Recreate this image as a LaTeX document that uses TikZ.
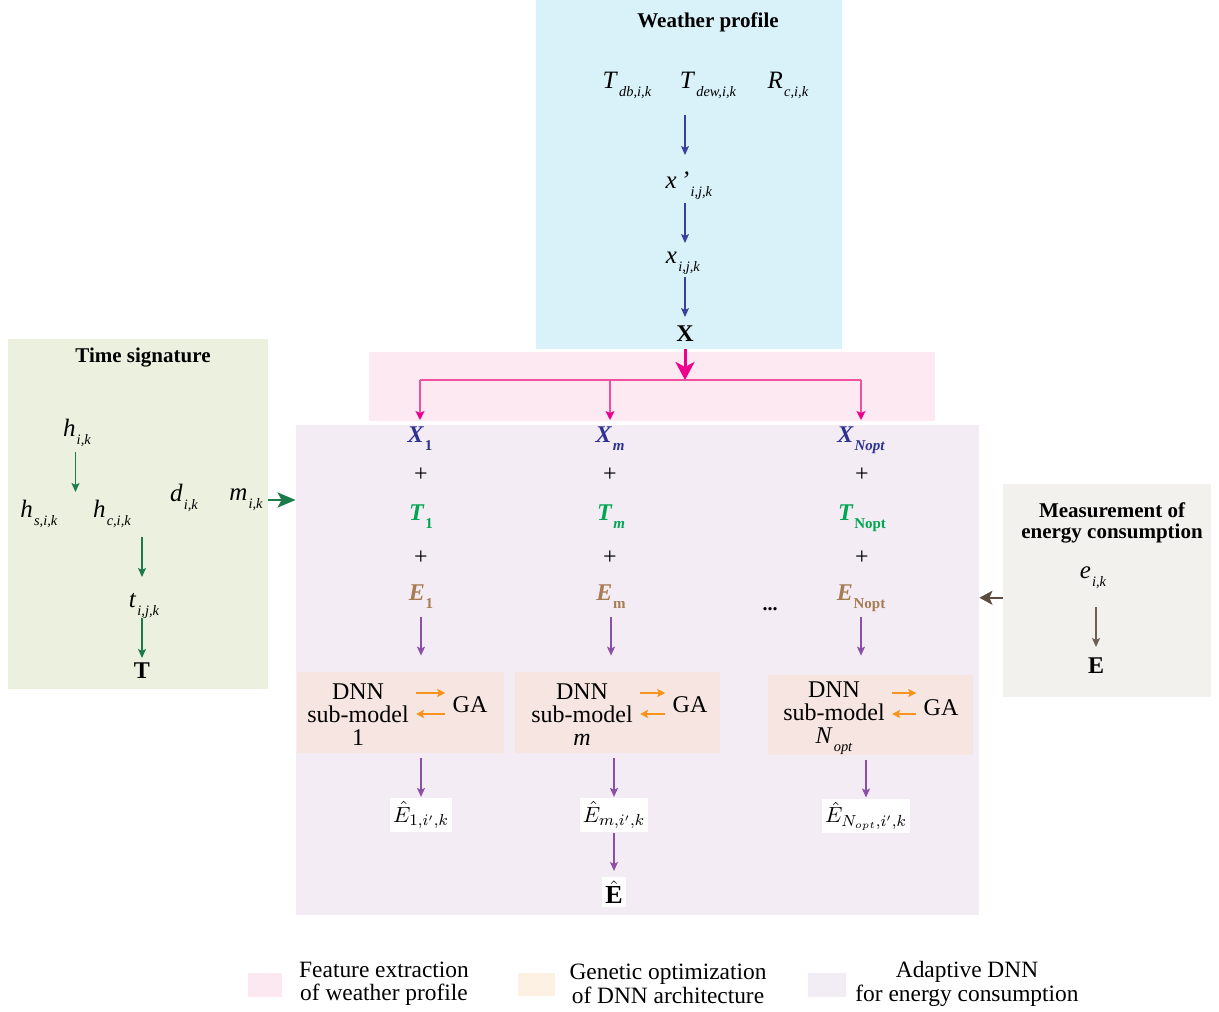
\documentclass[tikz,border=0pt]{standalone}
\usepackage{fontspec}
\setmainfont{Liberation Serif}
\usetikzlibrary{arrows.meta,calc,fit}
\definecolor{wbg}{HTML}{D9F2FA}
\definecolor{pbg}{HTML}{FCE9F2}
\definecolor{tbg}{HTML}{EBF1DE}
\definecolor{abg}{HTML}{F3ECF4}
\definecolor{mbg}{HTML}{F2F1EE}
\definecolor{dbg}{HTML}{F6E5E1}
\definecolor{lpk}{HTML}{FCE8F0}
\definecolor{lpc}{HTML}{FDF1E3}
\definecolor{lpu}{HTML}{F2ECF5}
\definecolor{cblue}{HTML}{3B3F9A}
\definecolor{xblue}{HTML}{2E3192}
\definecolor{cgreen}{HTML}{1D7A4A}
\definecolor{tgreen}{HTML}{00A651}
\definecolor{cpink}{HTML}{EC008C}
\definecolor{lpink}{HTML}{F0509E}
\definecolor{cpurp}{HTML}{8B4FA5}
\definecolor{corng}{HTML}{F7941D}
\definecolor{ebrown}{HTML}{A67C52}
\definecolor{cbrown}{HTML}{5C4B3F}
\definecolor{cgray}{HTML}{6D5F58}
\newcommand\vv[2]{\textit{#1}\kern0.6pt\raisebox{-4pt}{\fontsize{7.2}{8}\selectfont\textit{#2}}}
\newcommand\cvb[2]{\textbf{\textit{#1}}\kern0.4pt\raisebox{-4pt}{\fontsize{7.5}{8}\selectfont\bfseries #2}}
\tikzset{
  region/.style={inner sep=0pt, draw=none},
  ttl/.style={font=\fontsize{10.5}{10.5}\selectfont\bfseries, inner sep=0pt},
  var/.style={font=\fontsize{12.5}{14}\selectfont, inner sep=0pt, anchor=base},
  bvar/.style={var, font=\fontsize{12}{14}\selectfont\bfseries},
  cvar/.style={var, font=\fontsize{12}{14}\selectfont},
  plussign/.style={font=\fontsize{12}{14}\selectfont, inner sep=0pt},
  dnn/.style={align=center, font=\fontsize{12}{11.5}\selectfont, inner sep=2pt},
  ga/.style={font=\fontsize{12}{14}\selectfont, inner sep=2pt},
  lbl/.style={fill=white, inner sep=1.5pt, font=\fontsize{11}{13}\selectfont},
  leg/.style={align=center, font=\fontsize{11.7}{11.7}\selectfont, inner sep=0pt},
  tarr/.style={line width=0.6pt, -{Stealth[length=4.5pt,width=4pt,inset=1pt]}},
  barr/.style={tarr, draw=cblue},
  garr/.style={tarr, draw=cgreen},
  parw/.style={tarr, draw=cpurp},
  brarr/.style={tarr, draw=cgray},
  oarr/.style={line width=0.8pt, draw=corng, -{Stealth[length=4pt,width=4pt,inset=0.8pt]}, shorten <=1.5pt, shorten >=1.5pt},
  pline/.style={line width=0.7pt, draw=lpink},
  parr/.style={pline, -{Stealth[length=4.5pt,width=4.5pt,inset=1pt,color=cpink]}},
  pthick/.style={line width=1.5pt, draw=cpink, -{Stealth[length=9pt,width=9.5pt,inset=2.5pt]}},
  gthick/.style={line width=1.2pt, draw=cgreen, -{Stealth[length=9pt,width=7.5pt,inset=2pt]}},
  brthick/.style={line width=1pt, draw=cbrown, -{Stealth[length=6.5pt,width=7pt,inset=1.5pt]}},
}
\begin{document}
\begin{tikzpicture}[x=0.5pt,y=-0.5pt]
\useasboundingbox (0,0) rectangle (1219,1011);
% regions
\node[region, fill=wbg, fit={(536,0)(842,349)}] (wbox) {};
\node[region, fill=pbg, fit={(369,352)(935,421)}] (pbox) {};
\node[region, fill=tbg, fit={(8,339)(268,689)}] (tbox) {};
\node[region, fill=abg, fit={(296,425)(979,915)}] (abox) {};
\node[region, fill=mbg, fit={(1003,484)(1211,697)}] (mbox) {};
\node[region, fill=dbg, fit={(297,672)(504,753)}] (b1) {};
\node[region, fill=dbg, fit={(515,672)(720,753)}] (b2) {};
\node[region, fill=dbg, fit={(768,675)(973,755)}] (b3) {};
% weather profile
\node[ttl, anchor=base] (wt) at (708,28) {Weather profile};
\node[var] (tdb) at (627,89) {\vv{T}{db,i,k}};
\node[var] (tdew) at (708,89) {\vv{T}{dew,i,k}};
\node[var] (rc) at (788,89) {\vv{R}{c,i,k}};
\node[var] (xp) at (689,188) {\vv{x\,’}{i,j,k}};
\node[var] (xs) at (683,263) {\vv{x}{i,j,k}};
\node[bvar] (Xb) at (685,341) {X};
\draw[barr, shorten <=13pt, shorten >=16.5pt] (tdew.base -| Xb) -- (xp.base -| Xb);
\draw[barr, shorten <=7.5pt, shorten >=10pt] (xp.base -| Xb) -- (xs.base -| Xb);
\draw[barr, shorten <=7pt, shorten >=12pt] (xs.base -| Xb) -- (Xb.base);
% columns
\node[cvar, text=xblue] (x1) at (420,442) {\cvb{X}{1}};
\node[cvar, text=xblue] (xm) at (610,442) {\cvb{X}{\itshape m}};
\node[cvar, text=xblue] (xn) at (861,442) {\cvb{X}{\itshape Nopt}};
\node[plussign] (pa1) at (421,475) {+};
\node[plussign] (pam) at (610,475) {+};
\node[plussign] (pan) at (862,475) {+};
\node[cvar, text=tgreen] (t1) at (421,520) {\cvb{T}{1}};
\node[cvar, text=tgreen] (tm) at (611,520) {\cvb{T}{\itshape m}};
\node[cvar, text=tgreen] (tn) at (862,520) {\cvb{T}{Nopt}};
\node[plussign] (pb1) at (421,558) {+};
\node[plussign] (pbm) at (610,558) {+};
\node[plussign] (pbn) at (862,558) {+};
\node[cvar, text=ebrown] (e1) at (421,600) {\cvb{E}{1}};
\node[cvar, text=ebrown] (em) at (611,600) {\cvb{E}{m}};
\node[cvar, text=ebrown] (en) at (861,600) {\cvb{E}{Nopt}};
\node[anchor=base, inner sep=0pt, font=\fontsize{10}{12}\selectfont\bfseries] (dots) at (770,610) {...};
% pink split
\coordinate (split) at (685,380);
\draw[pthick] (wbox.south -| Xb) -- (split);
\draw[pline] (x1.base |- split) -- (xn.base |- split);
\draw[parr, shorten >=11pt] (x1.base |- split) -- (x1.base);
\draw[parr, shorten >=11pt] (xm.base |- split) -- (xm.base);
\draw[parr, shorten >=11pt] (xn.base |- split) -- (xn.base);
% E -> boxes
\draw[parw, shorten <=8.5pt, shorten >=8pt] (e1.base) -- (e1.base |- b1.north);
\draw[parw, shorten <=8.5pt, shorten >=8pt] (em.base) -- (em.base |- b2.north);
\draw[parw, shorten <=8.5pt, shorten >=9.5pt] (en.base) -- (en.base |- b3.north);
% box contents
\node[dnn] (d1) at (358,715) {DNN\\sub-model\\1};
\node[ga] (g1) at (470,705) {GA};
\node[dnn] (d2) at (582,715) {DNN\\sub-model\\\textit{m}};
\node[ga] (g2) at (690,705) {GA};
\node[dnn] (d3) at (834,718) {DNN\\sub-model\\\vv{N}{opt}};
\node[ga] (g3) at (941,708) {GA};
\draw[oarr] ([yshift=11pt]d1.east) -- ([yshift=6pt]g1.west);
\draw[oarr] ([yshift=-4.5pt]g1.west) -- ([yshift=0.5pt]d1.east);
\draw[oarr] ([yshift=11pt]d2.east) -- ([yshift=6pt]g2.west);
\draw[oarr] ([yshift=-4.5pt]g2.west) -- ([yshift=0.5pt]d2.east);
\draw[oarr] ([yshift=12.5pt]d3.east) -- ([yshift=7.5pt]g3.west);
\draw[oarr] ([yshift=-3pt]g3.west) -- ([yshift=2pt]d3.east);
% outputs
\node[lbl] (h1) at (421,815) {$\hat{E}_{1,i',k}$};
\node[lbl] (hm) at (614,815) {$\hat{E}_{m,i',k}$};
\node[lbl] (hn) at (866,816) {$\hat{E}_{N_{opt},i',k}$};
\node[lbl, font=\fontsize{13}{14}\selectfont] (Eh) at (614,892) {$\hat{\mathbf{E}}$};
\draw[parw, shorten <=2.5pt, shorten >=0.5pt] (b1.south -| h1) -- (h1.north);
\draw[parw, shorten <=2.5pt, shorten >=0.5pt] (b2.south -| hm) -- (hm.north);
\draw[parw, shorten <=2.5pt, shorten >=0.5pt] (b3.south -| hn) -- (hn.north);
\draw[parw, shorten <=0.5pt, shorten >=3pt] (hm.south -| Eh) -- (Eh.north);
% time signature
\node[ttl, anchor=base] (tt) at (143,362) {Time signature};
\node[var] (hik) at (77,436) {\vv{h}{i,k}};
\node[var] (hs) at (39,517) {\vv{h}{s,i,k}};
\node[var] (hc) at (112,517) {\vv{h}{c,i,k}};
\node[var] (dik) at (184,501) {\vv{d}{i,k}};
\node[var] (mik) at (246,500) {\vv{m}{i,k}};
\node[var] (tij) at (144,607) {\vv{t}{i,j,k}};
\node[bvar] (Tb) at (142,678) {T};
\coordinate (hmid) at ($(hs.base)!.5!(hc.base)$);
\draw[garr, shorten <=8pt, shorten >=12.5pt] (hik.base -| hmid) -- (hmid);
\draw[garr, shorten <=10pt, shorten >=15pt] (hc.base -| Tb) -- (tij.base -| Tb);
\draw[garr, shorten <=5.5pt, shorten >=10pt] (tij.base -| Tb) -- (Tb.base);
\draw[gthick] (tbox.east |- mik.base) -- (abox.west |- mik.base);
% measurement
\node[ttl, align=center] (mt) at (1112,523) {Measurement of\\energy consumption};
\node[var] (eik) at (1093,578) {\vv{e}{i,k}};
\node[bvar] (Eb) at (1096,673) {E};
\draw[brarr, shorten <=14.5pt, shorten >=13pt] (eik.base -| Eb) -- (Eb.base);
\draw[brthick] (mbox.west |- en) -- (abox.east |- en);
% legend
\node[region, fill=lpk, minimum width=17pt, minimum height=12pt] (lg1) at (265,985) {};
\node[region, fill=lpc, minimum width=18.5pt, minimum height=11.5pt] (lg2) at (536,984.5) {};
\node[region, fill=lpu, minimum width=19pt, minimum height=12pt] (lg3) at (827,985) {};
\node[leg] (lt1) at (384,984) {Feature extraction\\of weather profile};
\node[leg] (lt2) at (668,984) {Genetic optimization\\of DNN architecture};
\node[leg] (lt3) at (967,984) {Adaptive DNN\\for energy consumption};
\end{tikzpicture}
\end{document}
